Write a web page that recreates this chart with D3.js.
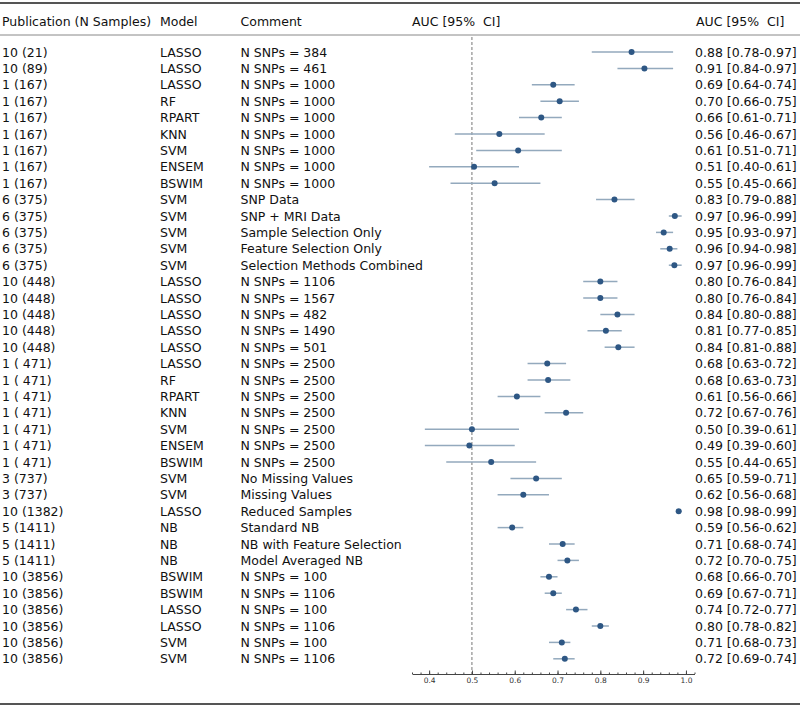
<!DOCTYPE html>
<html>
<head>
<meta charset="utf-8">
<script src="https://cdn.jsdelivr.net/npm/d3@7"></script>
<style>
  html, body { margin: 0; padding: 0; background: #fff; }
  text { font-family: "DejaVu Sans", sans-serif; }
</style>
</head>
<body>
<svg id="chart" width="800" height="708"></svg>
<script>
const publications = ["10 (21)","10 (89)","1 (167)","1 (167)","1 (167)","1 (167)","1 (167)","1 (167)","1 (167)",
  "6 (375)","6 (375)","6 (375)","6 (375)","6 (375)",
  "10 (448)","10 (448)","10 (448)","10 (448)","10 (448)",
  "1 ( 471)","1 ( 471)","1 ( 471)","1 ( 471)","1 ( 471)","1 ( 471)","1 ( 471)",
  "3 (737)","3 (737)","10 (1382)","5 (1411)","5 (1411)","5 (1411)",
  "10 (3856)","10 (3856)","10 (3856)","10 (3856)","10 (3856)","10 (3856)"];
const models = ["LASSO","LASSO","LASSO","RF","RPART","KNN","SVM","ENSEM","BSWIM",
  "SVM","SVM","SVM","SVM","SVM",
  "LASSO","LASSO","LASSO","LASSO","LASSO",
  "LASSO","RF","RPART","KNN","SVM","ENSEM","BSWIM",
  "SVM","SVM","LASSO","NB","NB","NB",
  "BSWIM","BSWIM","LASSO","LASSO","SVM","SVM"];
const comments = ["N SNPs = 384","N SNPs = 461","N SNPs = 1000","N SNPs = 1000","N SNPs = 1000","N SNPs = 1000","N SNPs = 1000","N SNPs = 1000","N SNPs = 1000",
  "SNP Data","SNP + MRI Data","Sample Selection Only","Feature Selection Only","Selection Methods Combined",
  "N SNPs = 1106","N SNPs = 1567","N SNPs = 482","N SNPs = 1490","N SNPs = 501",
  "N SNPs = 2500","N SNPs = 2500","N SNPs = 2500","N SNPs = 2500","N SNPs = 2500","N SNPs = 2500","N SNPs = 2500",
  "No Missing Values","Missing Values","Reduced Samples","Standard NB","NB with Feature Selection","Model Averaged NB",
  "N SNPs = 100","N SNPs = 1106","N SNPs = 100","N SNPs = 1106","N SNPs = 100","N SNPs = 1106"];
const auc = [0.873,0.903,0.69,0.705,0.662,0.564,0.608,0.505,0.553,
  0.833,0.974,0.948,0.962,0.973,
  0.80,0.80,0.84,0.813,0.842,
  0.676,0.678,0.605,0.72,0.50,0.494,0.545,
  0.650,0.620,0.983,0.594,0.712,0.723,
  0.680,0.690,0.743,0.800,0.710,0.717];
const lo = [0.78,0.84,0.64,0.66,0.61,0.46,0.51,0.40,0.45,
  0.79,0.96,0.93,0.94,0.96,
  0.76,0.76,0.80,0.77,0.81,
  0.63,0.63,0.56,0.67,0.39,0.39,0.44,
  0.59,0.56,0.98,0.56,0.68,0.70,
  0.66,0.67,0.72,0.78,0.68,0.69];
const hi = [0.97,0.97,0.74,0.75,0.71,0.67,0.71,0.61,0.66,
  0.88,0.99,0.97,0.98,0.99,
  0.84,0.84,0.88,0.85,0.88,
  0.72,0.73,0.66,0.76,0.61,0.60,0.65,
  0.71,0.68,0.99,0.62,0.74,0.75,
  0.70,0.71,0.77,0.82,0.73,0.74];
const ciLabels = ["0.88 [0.78-0.97]","0.91 [0.84-0.97]","0.69 [0.64-0.74]","0.70 [0.66-0.75]","0.66 [0.61-0.71]","0.56 [0.46-0.67]","0.61 [0.51-0.71]","0.51 [0.40-0.61]","0.55 [0.45-0.66]",
  "0.83 [0.79-0.88]","0.97 [0.96-0.99]","0.95 [0.93-0.97]","0.96 [0.94-0.98]","0.97 [0.96-0.99]",
  "0.80 [0.76-0.84]","0.80 [0.76-0.84]","0.84 [0.80-0.88]","0.81 [0.77-0.85]","0.84 [0.81-0.88]",
  "0.68 [0.63-0.72]","0.68 [0.63-0.73]","0.61 [0.56-0.66]","0.72 [0.67-0.76]","0.50 [0.39-0.61]","0.49 [0.39-0.60]","0.55 [0.44-0.65]",
  "0.65 [0.59-0.71]","0.62 [0.56-0.68]","0.98 [0.98-0.99]","0.59 [0.56-0.62]","0.71 [0.68-0.74]","0.72 [0.70-0.75]",
  "0.68 [0.66-0.70]","0.69 [0.67-0.71]","0.74 [0.72-0.77]","0.80 [0.78-0.82]","0.71 [0.68-0.73]","0.72 [0.69-0.74]"];
const headers = ["Publication (N Samples)","Model","Comment","AUC [95%  CI]","AUC [95%  CI]"];
const majorTicks = [0.4,0.5,0.6,0.7,0.8,0.9,1.0];
const refValue = 0.5;

const rows = auc.map((v,i)=>({i, pub:publications[i], model:models[i], comment:comments[i], auc:v, lo:lo[i], hi:hi[i], ci:ciLabels[i]}));

const svg = d3.select("#chart");
const x = d3.scaleLinear().domain([0.36,1.02]).range([412,694.5]);
const y = d3.scalePoint().domain(d3.range(rows.length)).range([52,658.8]);
const fs = 12.5;
const colX = [2,160,240.5,412,696];

// rules
svg.append("line").attr("x1",0).attr("x2",800).attr("y1",3).attr("y2",3).attr("stroke","#555").attr("stroke-width",2);
svg.append("line").attr("x1",0).attr("x2",800).attr("y1",35).attr("y2",35).attr("stroke","#888").attr("stroke-width",1);
svg.append("line").attr("x1",0).attr("x2",800).attr("y1",704).attr("y2",704).attr("stroke","#555").attr("stroke-width",2);

// headers
svg.selectAll("text.hdr").data(headers).join("text").attr("class","hdr")
  .attr("x",(d,i)=>colX[i]).attr("y",21.5).attr("dominant-baseline","central")
  .style("white-space","pre").attr("font-size",fs).attr("fill","#111").text(d=>d);

// reference line
svg.append("line").attr("x1",x(refValue)).attr("x2",x(refValue)).attr("y1",37).attr("y2",674)
  .attr("stroke","#777").attr("stroke-width",1).attr("stroke-dasharray","3,2");

// text columns
const keys = ["pub","model","comment"];
keys.forEach((k,ci)=>{
  svg.selectAll("text.c"+ci).data(rows).join("text").attr("class","c"+ci)
    .attr("x",colX[ci]).attr("y",d=>y(d.i)).attr("dominant-baseline","central")
    .style("white-space","pre").attr("font-size",fs).attr("fill","#111").text(d=>d[k]);
});
svg.selectAll("text.ci").data(rows).join("text").attr("class","ci")
  .attr("x",695).attr("y",d=>y(d.i)).attr("dominant-baseline","central")
  .attr("font-size",fs).attr("fill","#111").text(d=>d.ci);

// CI lines
svg.selectAll("line.err").data(rows).join("line").attr("class","err")
  .attr("x1",d=>x(d.lo)).attr("x2",d=>x(d.hi)).attr("y1",d=>y(d.i)).attr("y2",d=>y(d.i))
  .attr("stroke","#93a9bd").attr("stroke-width",1.5);
// points
svg.selectAll("circle.pt").data(rows).join("circle").attr("class","pt")
  .attr("cx",d=>x(d.auc)).attr("cy",d=>y(d.i)).attr("r",3).attr("fill","#2e5784");

// axis
const gAx = svg.append("g").attr("transform","translate(0,674)");
const minor = d3.range(0.36,1.0201,0.02);
gAx.call(d3.axisBottom(x).tickValues(minor).tickSizeInner(-1.5).tickSizeOuter(0).tickFormat(""));
gAx.selectAll(".tick line").attr("stroke","#444");
const gMaj = svg.append("g").attr("transform","translate(0,674)");
gMaj.call(d3.axisBottom(x).tickValues(majorTicks).tickSizeInner(-3.5).tickSizeOuter(0).tickPadding(3.5).tickFormat(d3.format(".1f")));
gMaj.select(".domain").remove();
gAx.select(".domain").attr("stroke","#444");
gMaj.selectAll(".tick line").attr("stroke","#444");
gMaj.selectAll(".tick text").attr("font-size",7.5).attr("fill","#333").attr("font-family","DejaVu Sans, sans-serif");
</script>
</body>
</html>
